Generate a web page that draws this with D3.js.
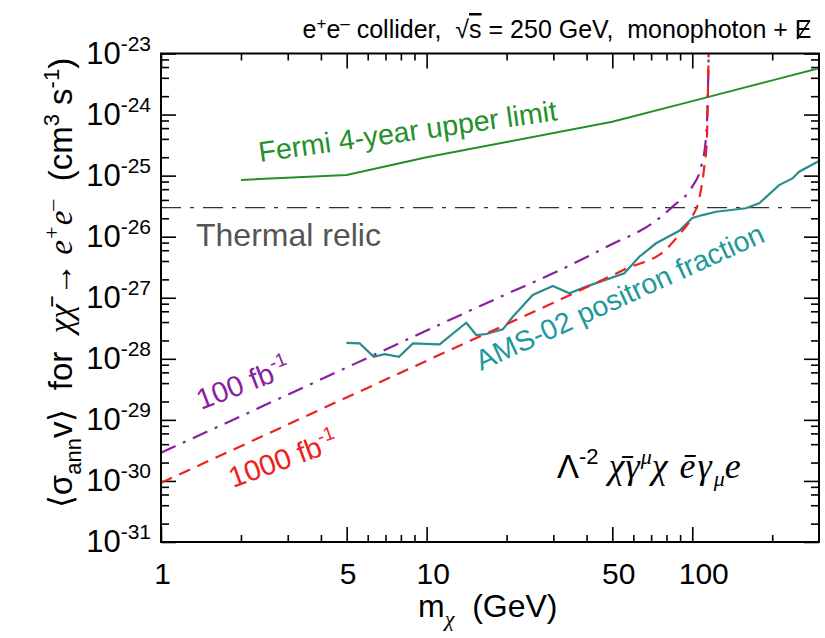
<!DOCTYPE html>
<html>
<head>
<meta charset="utf-8">
<script src="https://cdn.jsdelivr.net/npm/d3@7"></script>
<style>
  body { margin: 0; background: #fff; }
  svg { display: block; }
  text { font-family: "Liberation Sans", Arial, Helvetica, sans-serif; white-space: pre; }
  .math { font-family: "Liberation Serif", "Times New Roman", serif; font-style: italic; }
</style>
</head>
<body>
<svg id="chart" width="825" height="638"></svg>
<script>
// Dark-matter annihilation limits versus DM mass (log-log)

// x axis ticks (GeV)
const xMajorTicks = [1, 5, 10, 50, 100];
const xMinorTicks = [2, 3, 4, 6, 7, 8, 9, 20, 30, 40, 60, 70, 80, 90, 200];
// y axis ticks (cm^3 s^-1)
const yDecades = [1e-31, 1e-30, 1e-29, 1e-28, 1e-27, 1e-26, 1e-25, 1e-24, 1e-23];
const yMinorFactors = [2, 4, 6, 8];

// Fermi 4-year upper limit
const fermiMass  = [2, 5, 10, 20, 50, 100, 200, 300];
const fermiSigma = [8.5e-26, 1.02e-25, 2.0e-25, 3.55e-25, 7.6e-25, 1.66e-24, 3.63e-24, 5.75e-24];

// Thermal relic cross section
const relicSigma = 3e-26;

// Collider reach, 100 fb^-1
const lumi100Mass  = [1, 2, 5, 10, 20, 31.6, 50, 70, 85, 100, 108, 112.5, 114.5, 115.5];
const lumi100Sigma = [2.9e-30, 1.15e-29, 7.2e-29, 2.9e-28, 1.15e-27, 2.8e-27, 7.6e-27, 1.6e-26,
                      3.2e-26, 6.6e-26, 1.4e-25, 4.0e-25, 2.24e-24, 1.6e-23];

// Collider reach, 1000 fb^-1
const lumi1000Mass  = [1, 10, 30, 56, 80, 89, 100, 106, 111, 113.5, 114.5, 115.5];
const lumi1000Sigma = [9.3e-31, 9.3e-29, 8.3e-28, 2.95e-27, 6.3e-27, 1.07e-26, 2.14e-26, 4.0e-26,
                       1.4e-25, 3.8e-25, 2.24e-24, 1.6e-23];

// AMS-02 positron fraction limit
const amsMass  = [4.99, 5.6, 6.32, 6.95, 7.87, 8.88, 11.19, 14.1, 15.38, 16.77, 19.36, 21.11, 25.09,
                  29.85, 34.48, 39.84, 55.5, 63.2, 73.1, 89.4, 100, 109.3, 122.8, 159.2, 178.6,
                  212.3, 238.3, 252.5, 300];
const amsSigma = [1.82e-28, 1.79e-28, 1.08e-28, 1.19e-28, 1.08e-28, 1.79e-28, 1.73e-28, 3.9e-28,
                  2.45e-28, 2.55e-28, 3.04e-28, 4.89e-28, 1.11e-27, 1.56e-27, 1.18e-27, 1.52e-27,
                  2.51e-27, 4.7e-27, 7.8e-27, 1.25e-26, 2.02e-26, 2.26e-26, 2.56e-26, 2.92e-26,
                  3.52e-26, 7.0e-26, 9.0e-26, 1.16e-25, 1.74e-25];

const svg = d3.select("#chart");
const L = 161, R = 819, T = 53.5, B = 542;

const x = d3.scaleLog().domain([1, 300]).range([L, R]);
const y = d3.scaleLog().domain([1e-31, 1e-23]).range([B, T]);

const yMinorTicks = [];
yDecades.slice(0, -1).forEach(d => yMinorFactors.forEach(f => yMinorTicks.push(d * f)));

svg.append("defs").append("clipPath").attr("id", "plot-clip")
  .append("rect").attr("x", L).attr("y", T).attr("width", R - L).attr("height", B - T);

// ---- axes (ticks point inward on all four sides) ----
function styleAxis(g) {
  g.select(".domain").remove();
  g.selectAll(".tick line").attr("stroke", "#000").attr("stroke-width", 1.6);
}
svg.append("g").attr("transform", `translate(0,${B})`)
  .call(d3.axisBottom(x).tickValues(xMajorTicks).tickSize(-15).tickPadding(21).tickFormat(d => String(d)))
  .call(styleAxis)
  .call(g => g.selectAll("text").attr("font-size", 30).attr("fill", "#000")
      .attr("font-family", "Liberation Sans, Arial, sans-serif")
      .attr("dx", d => (String(d).length - 1) * 5 + 1));
svg.append("g").attr("transform", `translate(0,${B})`)
  .call(d3.axisBottom(x).tickValues(xMinorTicks).tickSize(-7).tickFormat(""))
  .call(styleAxis);
svg.append("g").attr("transform", `translate(0,${T})`)
  .call(d3.axisTop(x).tickValues(xMajorTicks).tickSize(-15).tickFormat(""))
  .call(styleAxis);
svg.append("g").attr("transform", `translate(0,${T})`)
  .call(d3.axisTop(x).tickValues(xMinorTicks).tickSize(-7).tickFormat(""))
  .call(styleAxis);

const yAxisG = svg.append("g").attr("transform", `translate(${L},0)`)
  .call(d3.axisLeft(y).tickValues(yDecades).tickSize(-15).tickPadding(10).tickFormat(""))
  .call(styleAxis);
yAxisG.selectAll(".tick text").each(function (d) {
  const t = d3.select(this)
    .attr("font-size", 31).attr("fill", "#000")
    .attr("font-family", "Liberation Sans, Arial, sans-serif")
    .attr("dy", "0.32em");
  t.text(null);
  t.append("tspan").text("10");
  t.append("tspan").attr("dy", -13).attr("font-size", 21).text(String(Math.round(Math.log10(d))));
});
svg.append("g").attr("transform", `translate(${L},0)`)
  .call(d3.axisLeft(y).tickValues(yMinorTicks).tickSize(-8).tickFormat(""))
  .call(styleAxis);
svg.append("g").attr("transform", `translate(${R},0)`)
  .call(d3.axisRight(y).tickValues(yDecades).tickSize(-15).tickFormat(""))
  .call(styleAxis);
svg.append("g").attr("transform", `translate(${R},0)`)
  .call(d3.axisRight(y).tickValues(yMinorTicks).tickSize(-8).tickFormat(""))
  .call(styleAxis);

// ---- curves ----
const plot = svg.append("g").attr("clip-path", "url(#plot-clip)");
const line = d3.line().x(d => x(d[0])).y(d => y(d[1]));
const zip = (a, b) => a.map((v, i) => [v, b[i]]);

plot.append("line")
  .attr("x1", L).attr("x2", R - 6).attr("y1", y(relicSigma)).attr("y2", y(relicSigma))
  .attr("stroke", "#333").attr("stroke-width", 1.3).attr("stroke-dasharray", "20,9,4,9");

plot.append("path").datum(zip(fermiMass, fermiSigma)).attr("d", line)
  .attr("fill", "none").attr("stroke", "#23902a").attr("stroke-width", 2);

plot.append("path").datum(zip(amsMass, amsSigma)).attr("d", line)
  .attr("fill", "none").attr("stroke", "#2a8c8c").attr("stroke-width", 2.2);

plot.append("path").datum(zip(lumi100Mass, lumi100Sigma)).attr("d", line.curve(d3.curveMonotoneX))
  .attr("fill", "none").attr("stroke", "#8a1fa0").attr("stroke-width", 2.2)
  .attr("stroke-dasharray", "16,8,3,8");

plot.append("path").datum(zip(lumi1000Mass, lumi1000Sigma)).attr("d", line.curve(d3.curveMonotoneX))
  .attr("fill", "none").attr("stroke", "#f02020").attr("stroke-width", 2.2)
  .attr("stroke-dasharray", "12,8");

// frame
svg.append("rect").attr("x", L).attr("y", T).attr("width", R - L).attr("height", B - T)
  .attr("fill", "none").attr("stroke", "#000").attr("stroke-width", 2);

// ---- labels ----
// title
const title = svg.append("text").attr("x", 557).attr("y", 38).attr("text-anchor", "middle")
  .attr("font-size", 25).attr("fill", "#000");
title.append("tspan").text("e");
title.append("tspan").attr("dy", -9).attr("font-size", 17).text("+");
title.append("tspan").attr("dy", 9).text("e");
title.append("tspan").attr("dy", -9).attr("font-size", 17).text("\u2013");
title.append("tspan").attr("dy", 9).text(" collider,  \u221A");
title.append("tspan").style("text-decoration", "overline").text("s");
title.append("tspan").text(" = 250 GeV,  monophoton + E");
// slash through the final "E" (missing transverse energy)
{
  const node = title.node();
  const box = node.getExtentOfChar(node.getNumberOfChars() - 1);
  svg.append("line")
    .attr("x1", box.x + box.width * 0.15).attr("y1", box.y + box.height * 0.86)
    .attr("x2", box.x + box.width * 0.9).attr("y2", box.y + box.height * 0.2)
    .attr("stroke", "#000").attr("stroke-width", 1.6);
}

// axis titles
const xl = svg.append("text").attr("x", 418).attr("y", 617).attr("font-size", 32).attr("fill", "#000");
xl.append("tspan").text("m");
xl.append("tspan").attr("dy", 9).attr("font-size", 22).attr("class", "math").text("\u03C7");
xl.append("tspan").attr("dy", -9).text("  (GeV)");

const yl = svg.append("text").attr("transform", "translate(72,283) rotate(-90)")
  .attr("text-anchor", "middle").attr("font-size", 33).attr("fill", "#000");
yl.append("tspan").text("\u27E8\u03C3");
yl.append("tspan").attr("dy", 9).attr("font-size", 22).text("ann");
yl.append("tspan").attr("dy", -9).text("v\u27E9  for  ");
yl.append("tspan").attr("class", "math").text("\u03C7\u03C7\u0304 \u2192 e");
yl.append("tspan").attr("dy", -13).attr("font-size", 22).attr("class", "math").text("+");
yl.append("tspan").attr("dy", 13).attr("class", "math").text("e");
yl.append("tspan").attr("dy", -13).attr("font-size", 22).attr("class", "math").text("\u2013");
yl.append("tspan").attr("dy", 13).text("  (cm");
yl.append("tspan").attr("dy", -13).attr("font-size", 22).text("3");
yl.append("tspan").attr("dy", 13).text(" s");
yl.append("tspan").attr("dy", -13).attr("font-size", 22).text("-1");
yl.append("tspan").attr("dy", 13).text(")");

// curve annotations
svg.append("text").attr("x", 196).attr("y", 246).attr("font-size", 32).attr("fill", "#555")
  .text("Thermal relic");

svg.append("text").attr("transform", "translate(260,162) rotate(-8)")
  .attr("font-size", 28.5).attr("fill", "#23902a").text("Fermi 4-year upper limit");

svg.append("text").attr("transform", "translate(481,371) rotate(-24.5)")
  .attr("font-size", 28.5).attr("fill", "#1f9a9a").text("AMS-02 positron fraction");

const l100 = svg.append("text").attr("transform", "translate(201,410) rotate(-21)")
  .attr("font-size", 29).attr("fill", "#8a1fa0");
l100.append("tspan").text("100 fb");
l100.append("tspan").attr("dy", -12).attr("font-size", 19).text("-1");

const l1000 = svg.append("text").attr("transform", "translate(233,488) rotate(-20)")
  .attr("font-size", 29).attr("fill", "#f02020");
l1000.append("tspan").text("1000 fb");
l1000.append("tspan").attr("dy", -12).attr("font-size", 19).text("-1");

// effective operator
const op = svg.append("text").attr("x", 557).attr("y", 478).attr("font-size", 33).attr("fill", "#000")
  .attr("font-family", "Liberation Serif, Times New Roman, serif");
op.append("tspan").text("\u039B");
op.append("tspan").attr("dy", -14).attr("font-size", 22).text("-2");
op.append("tspan").attr("dy", 14).attr("dx", 10).attr("class", "math").attr("font-size", 36)
  .attr("letter-spacing", 1).text("\u03C7\u0304\u03B3");
op.append("tspan").attr("dy", -14).attr("font-size", 22).attr("class", "math").text("\u03BC");
op.append("tspan").attr("dy", 14).attr("class", "math").attr("font-size", 36).text("\u03C7");
op.append("tspan").attr("dx", 12).attr("class", "math").attr("font-size", 36)
  .attr("letter-spacing", 2).text("e\u0304\u03B3");
op.append("tspan").attr("dy", 8).attr("font-size", 22).attr("class", "math").text("\u03BC");
op.append("tspan").attr("dy", -8).attr("class", "math").attr("font-size", 36).text("e");
</script>
</body>
</html>
